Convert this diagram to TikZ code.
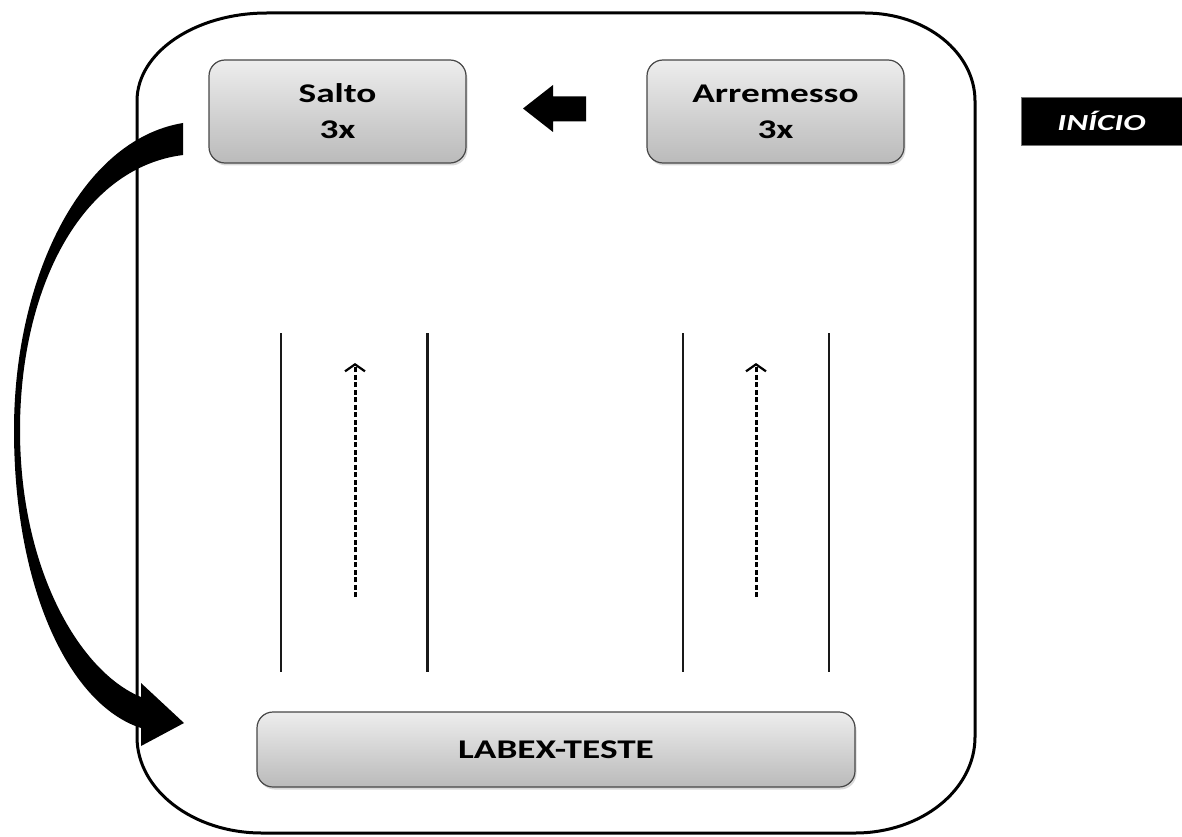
\documentclass[tikz,border=0pt]{standalone}
\usepackage{fontspec}
\setmainfont{Carlito}
\usetikzlibrary{arrows.meta,shadows}
% Calibri-like lettering, stretched horizontally
\newcommand{\widetext}[2][1.38]{\scalebox{#1}[1]{#2}}
\tikzset{
  panel/.style={draw=black!72, line width=1.2pt, rounded corners=16pt,
    top color=black!7, bottom color=black!27,
    drop shadow={opacity=0.3, shadow xshift=1.5pt, shadow yshift=-2.5pt},
    font=\fontsize{27}{36}\selectfont\bfseries, text=black,
    align=center, inner sep=0pt},
  lane/.style={line width=2.6pt, black!90},
  runpath/.style={line width=3pt, dash pattern=on 5pt off 2.5pt,
    -{Straight Barb[length=7pt, width=20pt, line width=2.2pt]}},
  frame/.style={line width=3pt, black},
  bigarrow/.style={fill=black},
  tag/.style={fill=black, draw=black!55, line width=0.8pt, inner sep=0pt,
    text=white, font=\fontsize{23}{28}\selectfont\bfseries\itshape}
}
\begin{document}
\begin{tikzpicture}[x=1pt, y=-1pt]
  \useasboundingbox (0,0) rectangle (1182,837);

  % start tag
  \node[tag, minimum width=161pt, minimum height=48pt] (inicio) at (1101.5,121) {\widetext[1.45]{INÍCIO}};

  % stations
  \node[panel, minimum width=257pt, minimum height=103pt] (salto) at (337.5,111.5)
    {\widetext{Salto}\\\widetext{3x}};
  \node[panel, minimum width=257pt, minimum height=103pt] (arremesso) at (775.5,111.5)
    {\widetext{Arremesso}\\\widetext{3x}};
  \node[panel, minimum width=598pt, minimum height=75pt] (labex) at (556,749.5)
    {\widetext{LABEX-TESTE}};

  % block arrow from the throwing station towards the jumping station
  \fill[bigarrow] (523,108.5) -- (553,85) -- (553,96.5) -- (586,96.5)
    -- (586,121.5) -- (553,121.5) -- (553,132) -- cycle;

  % return arrow from the jumping station down to the test
  \fill[bigarrow] (183,123) .. controls (80,140) and (14,280) .. (14,430)
    .. controls (14,590) and (70,705) .. (141,728)
    -- (141,746) -- (184,723) -- (141,683) -- (141,697)
    .. controls (80,672) and (20,570) .. (20,430)
    .. controls (20,290) and (80,168) .. (183,155) -- cycle;

  % running lanes
  \draw[lane] (281,333) -- (281,672);
  \draw[lane] (427.5,333) -- (427.5,672);
  \draw[lane] (683,333) -- (683,672);
  \draw[lane] (829,333) -- (829,672);
  \draw[runpath] (355,597) -- (355,363);
  \draw[runpath] (756,597) -- (756,363);

  % outer frame with rounded corners
  \draw[frame] (137,101) .. controls (137,52.4) and (195.2,13) .. (267,13)
    -- (865,13) .. controls (925.8,13) and (975,52.4) .. (975,101)
    -- (975,737) .. controls (975,790) and (921.3,833) .. (855,833)
    -- (262,833) .. controls (193,833) and (137,790) .. (137,737) -- cycle;
\end{tikzpicture}
\end{document}
